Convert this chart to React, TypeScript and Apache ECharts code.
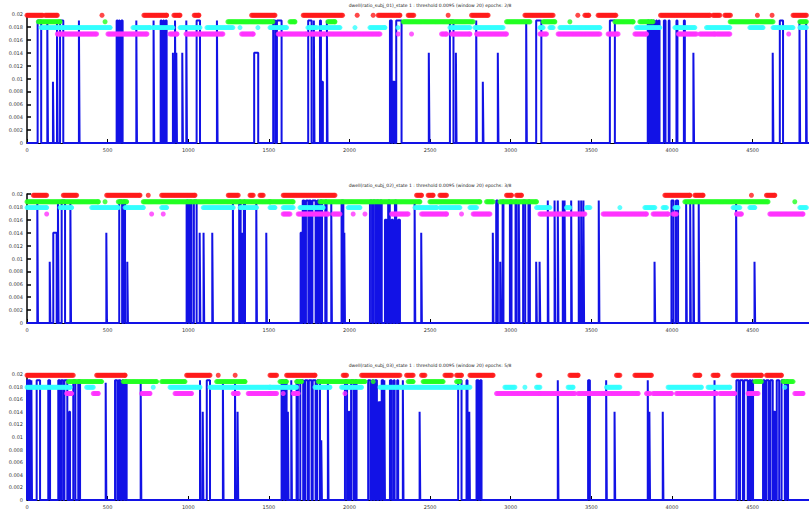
import React, { useEffect, useRef } from "react";
import * as echarts from "echarts";

const X_MAX = 4850;
const X_TICK = 500;
const Y_MAX = 0.02;
const Y_TICK = 0.002;

const TITLES = [
  "dwell(ratio_subj_01)_state 1 : threshold 0.0095 (window 20) epochs: 2/8",
  "dwell(ratio_subj_02)_state 1 : threshold 0.0095 (window 20) epochs: 3/8",
  "dwell(ratio_subj_03)_state 1 : threshold 0.0095 (window 20) epochs: 5/8",
];

// marker levels (y values)
const LEVEL_RED = 0.0198;
const LEVEL_GREEN = 0.0188;
const LEVEL_CYAN = 0.0179;
const LEVEL_MAGENTA = 0.0169;

// ---------- Panel 1 ----------
const P1_SPIKES: [number, number, number][] = [
  [66, 88, 0.019], [126, 130, 0.019], [161, 165, 0.0095], [186, 190, 0.019], [205, 225, 0.019], [322, 326, 0.019],
  [556, 562, 0.019], [570, 575, 0.019], [585, 593, 0.019], [678, 682, 0.019], [785, 789, 0.019],
  [829, 835, 0.019], [845, 850, 0.019], [860, 866, 0.019], [905, 909, 0.014], [918, 922, 0.019], [926, 930, 0.014],
  [963, 967, 0.014], [988, 992, 0.019], [1052, 1073, 0.019], [1178, 1182, 0.019], [1409, 1434, 0.014],
  [1527, 1540, 0.019], [1550, 1579, 0.019], [1744, 1765, 0.019], [1779, 1783, 0.019], [1817, 1823, 0.019],
  [1829, 1835, 0.0095], [1860, 1864, 0.019], [2251, 2262, 0.019], [2268, 2280, 0.0095], [2290, 2323, 0.019],
  [2492, 2496, 0.014], [2623, 2645, 0.019], [2660, 2664, 0.014], [2786, 2790, 0.019], [2827, 2831, 0.0095],
  [2920, 2924, 0.014], [3096, 3100, 0.019], [3158, 3190, 0.019], [3615, 3646, 0.019],
  [3850, 3858, 0.019], [3870, 3876, 0.019], [3885, 3890, 0.019], [3902, 3907, 0.019], [3918, 3923, 0.019],
  [3950, 3960, 0.019], [3980, 3985, 0.019], [4028, 4034, 0.019], [4074, 4080, 0.019], [4133, 4137, 0.014],
  [4625, 4629, 0.014], [4669, 4689, 0.019], [4791, 4795, 0.019], [4832, 4836, 0.019],
];
const P1_RED: [number, number][] = [
  [0, 97], [113, 188], [465, 465], [725, 866], [911, 949], [1037, 1066], [1393, 1538], [1713, 1957], [2048, 2048],
  [2147, 2147], [2178, 2313], [2364, 2399], [2612, 2612], [2757, 2860], [3088, 3263], [3416, 3416], [3460, 3484],
  [3542, 3652], [3929, 4235], [4255, 4297], [4328, 4363], [4530, 4530], [4621, 4621], [4751, 4834],
];
const P1_GREEN: [number, number][] = [
  [70, 205], [484, 484], [1246, 1525], [1631, 1662], [1866, 1910], [2333, 2767], [2974, 3119], [3201, 3274],
  [3367, 3367], [3646, 3759], [3801, 3883], [4361, 4627], [4793, 4834],
];
const P1_CYAN: [number, number][] = [
  [87, 515], [657, 763], [781, 905], [949, 1073], [1116, 1277], [1321, 1321], [1432, 1432], [1507, 1610],
  [1742, 1798], [1817, 1941], [2034, 2034], [2127, 2220], [2300, 2300], [2623, 2747], [2778, 2953], [3181, 3201],
  [3243, 3263], [3305, 3553], [3780, 3925], [4018, 4142], [4214, 4359], [4483, 4565], [4627, 4751], [4793, 4834],
];
const P1_MAGENTA: [number, number][] = [
  [188, 432], [502, 744], [887, 930], [986, 1215], [1331, 1403], [1558, 1734], [1755, 1848], [1868, 2189],
  [2302, 2302], [2385, 2385], [2571, 2602], [2633, 2747], [2788, 2974], [3181, 3222], [3294, 3553], [3604, 3666],
  [3770, 3842], [4040, 4152], [4173, 4266], [4276, 4359], [4724, 4724],
];

// ---------- Panel 2 ----------
const P2_SPIKES: [number, number, number][] = [
  [64, 68, 0.019], [141, 145, 0.0095], [163, 184, 0.014], [192, 196, 0.019], [215, 236, 0.019], [269, 273, 0.019],
  [492, 496, 0.014], [572, 590, 0.019], [598, 608, 0.019], [622, 626, 0.0095],
  [990, 1000, 0.019], [1010, 1020, 0.019], [1035, 1052, 0.019], [1071, 1075, 0.014], [1095, 1099, 0.014],
  [1149, 1153, 0.014], [1277, 1281, 0.019], [1316, 1325, 0.019], [1333, 1337, 0.014], [1345, 1352, 0.019],
  [1422, 1426, 0.019], [1484, 1488, 0.014],
  [1697, 1703, 0.014], [1710, 1720, 0.019], [1730, 1745, 0.019], [1750, 1760, 0.019], [1770, 1790, 0.019],
  [1800, 1810, 0.019], [1818, 1830, 0.019], [1850, 1858, 0.019], [1887, 1891, 0.019], [1951, 1962, 0.019],
  [1968, 1972, 0.014],
  [2127, 2140, 0.019], [2147, 2160, 0.019], [2168, 2180, 0.019], [2189, 2200, 0.019], [2220, 2230, 0.016],
  [2240, 2250, 0.019], [2261, 2270, 0.016], [2282, 2290, 0.019], [2302, 2313, 0.016],
  [2404, 2408, 0.019], [2445, 2449, 0.014], [2889, 2893, 0.014], [2910, 2920, 0.019], [2935, 2939, 0.0095],
  [2950, 2955, 0.019], [2995, 3005, 0.019], [3030, 3036, 0.019], [3050, 3054, 0.019], [3077, 3090, 0.019],
  [3110, 3119, 0.019], [3158, 3162, 0.0095], [3179, 3183, 0.0095],
  [3230, 3234, 0.019], [3272, 3276, 0.019], [3292, 3296, 0.019], [3323, 3327, 0.019], [3334, 3338, 0.019],
  [3375, 3379, 0.019], [3422, 3426, 0.019], [3437, 3441, 0.019], [3451, 3455, 0.019], [3546, 3550, 0.019],
  [3892, 3896, 0.0095], [3997, 4010, 0.019], [4025, 4038, 0.019], [4088, 4092, 0.019], [4113, 4117, 0.019],
  [4133, 4137, 0.019], [4166, 4170, 0.019], [4398, 4402, 0.019], [4512, 4516, 0.0095],
];
const P2_RED: [number, number][] = [
  [39, 122], [225, 308], [494, 701], [752, 752], [835, 1042], [1248, 1310], [1383, 1403], [1445, 1465],
  [1589, 1910], [2416, 2447], [2488, 2519], [2561, 2602], [2974, 3005], [3036, 3067],
  [3956, 4111], [4142, 4193], [4493, 4493], [4586, 4638],
];
const P2_GREEN: [number, number][] = [
  [0, 442], [484, 484], [566, 618], [721, 1507], [1507, 1651], [1817, 2437], [2499, 2809], [2850, 2891],
  [2933, 3160], [4080, 4596], [4762, 4762],
];
const P2_CYAN: [number, number][] = [
  [0, 122], [205, 277], [401, 566], [608, 721], [835, 866], [1093, 1279], [1321, 1424], [1507, 1538],
  [1589, 1651], [1693, 1837], [1992, 2065], [2406, 2540], [2561, 2685], [2747, 2788], [3160, 3243],
  [3346, 3367], [3470, 3491], [3677, 3677], [3832, 3894], [3945, 3966], [4018, 4038], [4379, 4421],
  [4483, 4514], [4793, 4834],
];
const P2_MAGENTA: [number, number][] = [
  [122, 122], [773, 773], [845, 845], [1589, 1631], [1682, 1868], [1899, 1941], [2023, 2023], [2096, 2096],
  [2261, 2364], [2447, 2602], [2695, 2695], [2767, 2871], [3181, 3460], [3573, 3842], [3883, 3976],
  [4007, 4028], [4400, 4431], [4607, 4813],
];

// ---------- Panel 3 ----------
const P3_SPIKES: [number, number, number][] = [
  [0, 8, 0.019], [14, 19, 0.019], [27, 31, 0.019], [60, 81, 0.019], [132, 143, 0.019],
  [194, 205, 0.019], [212, 225, 0.019], [232, 250, 0.019], [262, 267, 0.014], [287, 300, 0.019], [318, 329, 0.019],
  [488, 492, 0.0186], [546, 560, 0.019], [568, 580, 0.019], [590, 600, 0.019], [610, 618, 0.019], [705, 709, 0.019],
  [1073, 1077, 0.019], [1090, 1094, 0.014], [1115, 1135, 0.019], [1215, 1219, 0.019], [1290, 1294, 0.019],
  [1306, 1310, 0.014],
  [1579, 1590, 0.019], [1600, 1610, 0.019], [1618, 1622, 0.014], [1639, 1643, 0.019], [1672, 1680, 0.019],
  [1695, 1713, 0.019], [1724, 1740, 0.019], [1748, 1765, 0.019], [1772, 1790, 0.019], [1800, 1817, 0.019],
  [1825, 1829, 0.0095], [1866, 1870, 0.019], [1972, 1985, 0.019], [1995, 2000, 0.014], [2010, 2025, 0.019],
  [2035, 2044, 0.019], [2116, 2130, 0.019], [2140, 2150, 0.019], [2158, 2170, 0.019], [2180, 2192, 0.0155],
  [2200, 2210, 0.019], [2216, 2220, 0.019], [2251, 2262, 0.019], [2275, 2280, 0.019], [2296, 2302, 0.019],
  [2331, 2335, 0.019], [2435, 2439, 0.014], [2674, 2695, 0.019], [2726, 2732, 0.019], [2743, 2747, 0.014],
  [2788, 2800, 0.019], [2810, 2819, 0.019],
  [3292, 3296, 0.019], [3480, 3491, 0.019], [3592, 3596, 0.019], [3644, 3648, 0.014], [3850, 3854, 0.019],
  [3860, 3864, 0.014], [3943, 3947, 0.014], [4264, 4268, 0.019],
  [4400, 4415, 0.019], [4422, 4440, 0.019], [4448, 4470, 0.019], [4480, 4490, 0.019], [4498, 4503, 0.019],
  [4565, 4575, 0.019], [4585, 4600, 0.019], [4610, 4625, 0.019], [4632, 4640, 0.014], [4650, 4665, 0.019],
  [4680, 4700, 0.019], [4710, 4720, 0.019],
];
const P3_RED: [number, number][] = [
  [0, 287], [432, 608], [990, 1135], [1186, 1186], [1291, 1291], [1507, 1548], [1610, 1786], [1961, 1982],
  [2075, 2313], [2354, 2395], [2447, 2468], [2592, 2633], [2664, 2695], [2747, 2891], [3170, 3181],
  [3367, 3418], [3656, 3677], [3770, 3873], [4142, 4173], [4255, 4286], [4379, 4555], [4586, 4679],
];
const P3_GREEN: [number, number][] = [
  [256, 463], [597, 804], [835, 980], [1176, 1352], [1569, 1610], [1672, 1703], [1806, 2096], [2147, 2147],
  [2364, 2395], [2457, 2581], [2664, 2685], [4514, 4555], [4689, 4751],
];
const P3_CYAN: [number, number][] = [
  [0, 267], [370, 411], [783, 783], [887, 1073], [1135, 1507], [1507, 1672], [1786, 1879], [1951, 2075],
  [2189, 2747], [2964, 3026], [3088, 3088], [3160, 3181], [3356, 3387], [3594, 3677], [3976, 4183],
  [4224, 4359], [4700, 4700],
];
const P3_MAGENTA: [number, number][] = [
  [246, 277], [411, 442], [711, 763], [918, 1021], [1279, 1310], [1372, 1507], [1507, 1548], [1589, 1589],
  [1651, 1682], [1972, 1972], [2912, 3181], [3181, 3398], [3418, 3790], [3842, 3863], [3883, 3997],
  [4028, 4276], [4297, 4390], [4472, 4534], [4762, 4813],
];

const PANELS = [
  { spikes: P1_SPIKES, red: P1_RED, green: P1_GREEN, cyan: P1_CYAN, magenta: P1_MAGENTA },
  { spikes: P2_SPIKES, red: P2_RED, green: P2_GREEN, cyan: P2_CYAN, magenta: P2_MAGENTA },
  { spikes: P3_SPIKES, red: P3_RED, green: P3_GREEN, cyan: P3_CYAN, magenta: P3_MAGENTA },
];

const GRID_TOPS = [14, 194, 374];
const GRID_H = 129;

function expandRuns(runs: [number, number][], level: number) {
  const pts: number[][] = [];
  for (const [a, b] of runs) {
    if (b <= a) pts.push([a, level]);
    else {
      for (let x = a; x < b; x += 7) pts.push([x, level]);
      pts.push([b, level]);
    }
  }
  return pts;
}

function pulseLine(spikes: [number, number, number][]) {
  const sorted = [...spikes].sort((p, q) => p[0] - q[0]);
  const pts: number[][] = [[0, 0]];
  for (const [s, e, v] of sorted) {
    pts.push([s, 0], [s, v], [e, v], [e, 0]);
  }
  pts.push([X_MAX, 0]);
  return pts;
}

export default function App() {
  const ref = useRef<HTMLDivElement>(null);
  useEffect(() => {
    if (!ref.current) return;
    const chart = echarts.init(ref.current, undefined, { renderer: "svg" });
    const grids: any[] = [];
    const xAxes: any[] = [];
    const yAxes: any[] = [];
    const series: any[] = [];
    const graphics: any[] = [];
    PANELS.forEach((p, i) => {
      grids.push({ left: 27, right: 0, top: GRID_TOPS[i], height: GRID_H, containLabel: false });
      xAxes.push({
        type: "value",
        gridIndex: i,
        min: 0,
        max: X_MAX,
        interval: X_TICK,
        axisLine: { onZero: false, lineStyle: { color: "#000", width: 1 } },
        axisTick: { inside: true, length: 4, lineStyle: { color: "#000" } },
        axisLabel: {
          fontSize: 5,
          color: "#333",
          margin: 4,
          fontFamily: "DejaVu Sans",
          showMaxLabel: false,
          formatter: (v: number) => String(v),
        },
        splitLine: { show: false },
      });
      yAxes.push({
        type: "value",
        gridIndex: i,
        min: 0,
        max: Y_MAX,
        interval: Y_TICK,
        axisLine: { show: true, lineStyle: { color: "#000", width: 1.5 } },
        axisTick: { show: true, inside: true, length: 4, lineStyle: { color: "#000", width: 1.5 } },
        axisLabel: {
          fontSize: 5,
          color: "#333",
          margin: 4,
          fontFamily: "DejaVu Sans",
          formatter: (v: number) => String(+v.toFixed(3)),
        },
        splitLine: { show: false },
      });
      series.push({
        type: "line",
        xAxisIndex: i,
        yAxisIndex: i,
        data: pulseLine(p.spikes),
        showSymbol: false,
        lineStyle: { color: "#1212e6", width: 2 },
        z: 3,
        silent: true,
      });
      const marks: [any, number, string][] = [
        [p.magenta, LEVEL_MAGENTA, "#ff33ff"],
        [p.cyan, LEVEL_CYAN, "#33ffff"],
        [p.green, LEVEL_GREEN, "#22ff22"],
        [p.red, LEVEL_RED, "#ff1a1a"],
      ];
      marks.forEach(([runs, lvl, col]) => {
        series.push({
          type: "scatter",
          xAxisIndex: i,
          yAxisIndex: i,
          data: expandRuns(runs, lvl),
          symbol: "circle",
          symbolSize: 5,
          itemStyle: { color: col },
          z: 4,
          silent: true,
        });
      });
      graphics.push({
        type: "text",
        x: 430,
        y: GRID_TOPS[i] - 9,
        style: {
          text: TITLES[i],
          fontSize: 4.5,
          fill: "#222",
          textAlign: "center",
          textVerticalAlign: "middle",
          fontFamily: "DejaVu Sans",
        },
      });
    });
    chart.setOption({
      animation: false,
      backgroundColor: "#fff",
      grid: grids,
      xAxis: xAxes,
      yAxis: yAxes,
      series,
      graphic: graphics,
    });
    return () => chart.dispose();
  }, []);
  return (
    <div
      ref={ref}
      style={{ position: "absolute", left: 0, top: 0, width: 809, height: 509 }}
    />
  );
}
